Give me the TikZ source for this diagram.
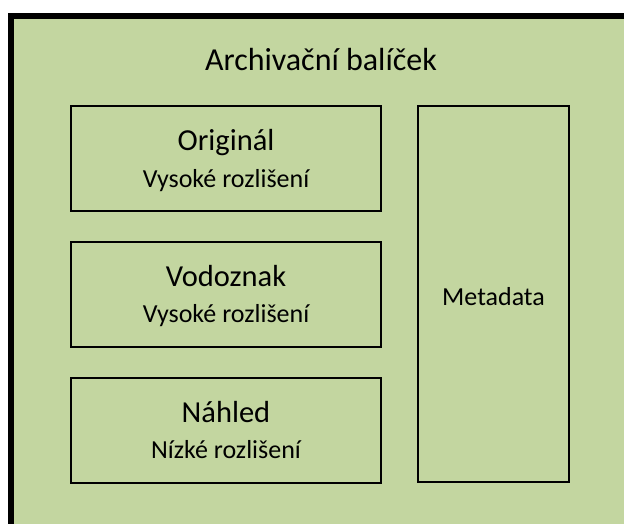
\documentclass[tikz,border=0pt]{standalone}
\usepackage{fontspec}
\setmainfont{Carlito}
\usetikzlibrary{calc}

\definecolor{archgreen}{RGB}{195,214,160}

\tikzset{
  part/.style={draw, line width=2pt, minimum width=310pt, minimum height=105pt, inner sep=0pt},
  headtext/.style={anchor=base, font=\fontsize{30.5}{36}\selectfont},
  subtext/.style={anchor=base, font=\fontsize{26}{31}\selectfont},
}

\begin{document}
\begin{tikzpicture}[x=1pt, y=-1pt]

    \useasboundingbox (0,0) rectangle (624,524);
    \clip (0,0) rectangle (624,524);
    \draw[line width=6pt, fill=archgreen] (11,16) rectangle (640,540);

    \node[anchor=base, font=\fontsize{32}{38}\selectfont] (title) at (321,71) {Archivační balíček};

    \node[part] (orig) at (226,158.5) {};
    \node[part] (wmark) at (226,294) {};
    \node[part] (preview) at (226,430) {};
    \node[draw, line width=2pt, minimum width=151pt, minimum height=376pt, inner sep=0pt] (meta) at (493.5,294) {};

    \node[headtext] (origname) at ($(orig.north) + (0,46)$) {Originál};
    \node[subtext] (origres) at ($(orig.north) + (0,82)$) {Vysoké rozlišení};
    \node[headtext] (wmarkname) at ($(wmark.north) + (0,46)$) {Vodoznak};
    \node[subtext] (wmarkres) at ($(wmark.north) + (0,82)$) {Vysoké rozlišení};
    \node[headtext] (previewname) at ($(preview.north) + (0,46)$) {Náhled};
    \node[subtext] (previewres) at ($(preview.north) + (0,82)$) {Nízké rozlišení};
    \node[subtext] (metaname) at ($(meta.center) + (0,11)$) {Metadata};

\end{tikzpicture}
\end{document}
